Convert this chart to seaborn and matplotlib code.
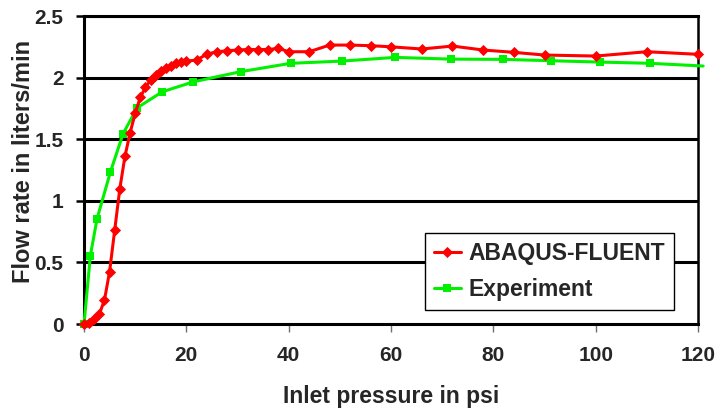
import matplotlib
matplotlib.use("Agg")
import matplotlib.pyplot as plt
import seaborn as sns
import pandas as pd
from matplotlib.ticker import FuncFormatter

# ---- data ----
sim_pressure = [0, 1, 2, 3, 4, 5, 6, 7, 8, 9, 10, 11, 12, 13, 14, 15, 16, 17, 18, 19, 20,
                22, 24, 26, 28, 30, 32, 34, 36, 38, 40, 44, 48, 52, 56, 60, 66, 72, 78,
                84, 90, 100, 110, 120]
sim_flow = [0.0, 0.005, 0.04, 0.08, 0.195, 0.425, 0.762, 1.098, 1.36, 1.551, 1.709,
            1.839, 1.92, 1.98, 2.02, 2.053, 2.075, 2.096, 2.116, 2.13, 2.134,
            2.142, 2.19, 2.21, 2.218, 2.224, 2.228, 2.228, 2.228, 2.237, 2.21, 2.21,
            2.264, 2.264, 2.259, 2.25, 2.232, 2.256, 2.224, 2.205, 2.183, 2.175,
            2.21, 2.189]

exp_pressure = [0, 1.25, 2.55, 5.16, 7.65, 10.4, 15.3, 21.4, 30.6, 40.4, 50.4, 60.8,
                71.7, 81.9, 91.2, 100.8, 110.6, 121]
exp_flow = [0.0, 0.556, 0.854, 1.234, 1.546, 1.755, 1.885, 1.966, 2.048, 2.116,
            2.134, 2.164, 2.15, 2.148, 2.137, 2.126, 2.116, 2.094]

series_names = ["ABAQUS-FLUENT", "Experiment"]
x_ticks = [0, 20, 40, 60, 80, 100, 120]
y_ticks = [0, 0.5, 1, 1.5, 2, 2.5]
x_label = "Inlet pressure in psi"
y_label = "Flow rate in liters/min"

sns.set_style("white")
plt.rcParams["font.family"] = ["Liberation Sans", "DejaVu Sans"]
plt.rcParams["font.weight"] = "bold"

fig = plt.figure(figsize=(7.21, 4.13), dpi=100)
ax = fig.add_axes([84 / 721, (413 - 324) / 413, 614 / 721, 308 / 413])

sim_df = pd.DataFrame({"p": sim_pressure, "q": sim_flow})
exp_df = pd.DataFrame({"p": exp_pressure, "q": exp_flow})

sns.lineplot(data=sim_df, x="p", y="q", ax=ax, color="#ff0000", linewidth=2.2,
             marker="D", markersize=4.8, markeredgewidth=0.6, markeredgecolor="#ff0000",
             label=series_names[0], zorder=4, clip_on=False, estimator=None)
sns.lineplot(data=exp_df, x="p", y="q", ax=ax, color="#00f000", linewidth=2.2,
             marker="s", markersize=5.6, markeredgewidth=0, label=series_names[1],
             zorder=3, markevery=list(range(len(exp_pressure) - 1)), clip_on=False,
             estimator=None)

ax.set_xlim(0, 120)
ax.set_ylim(0, 2.5)
ax.set_xticks(x_ticks)
ax.set_yticks(y_ticks)
ax.yaxis.set_major_formatter(FuncFormatter(lambda v, p: "%g" % v))

ax.grid(False)
for yv in y_ticks[1:]:
    ax.axhline(yv, color="black", linewidth=2.2, zorder=1)

for side in ["left", "right", "top", "bottom"]:
    ax.spines[side].set_visible(True)
    ax.spines[side].set_color("black")
    ax.spines[side].set_linewidth(2.2)
ax.spines["right"].set_linewidth(1.8)

ax.tick_params(axis="x", direction="out", length=5.8, width=1.0, color="#707070",
               pad=10, labelsize=15, bottom=True)
ax.tick_params(axis="y", direction="out", length=5.8, width=1.8, color="black",
               pad=9, labelsize=15, left=True)
for lab in ax.get_xticklabels() + ax.get_yticklabels():
    lab.set_fontweight("bold")

ax.set_xlabel("")
ax.set_ylabel("")
fig.text(391 / 721, 1 - 397 / 413, x_label, ha="center", va="center",
         fontsize=16.5, fontweight="bold")
fig.text(24 / 721, 1 - 161 / 413, y_label, ha="center", va="center", rotation=90,
         fontsize=17, fontweight="bold")

leg = ax.legend(loc="upper left", bbox_to_anchor=(425 / 721, 1 - 233 / 413),
                bbox_transform=fig.transFigure, frameon=True, fancybox=False,
                framealpha=1, edgecolor="black", borderpad=0.4, borderaxespad=0,
                handlelength=1.15, handletextpad=0.35, labelspacing=0.55,
                prop={"weight": "bold", "size": 16.5})
leg.get_frame().set_linewidth(1.0)
leg.set_zorder(10)

fig.savefig("out.png", dpi=100)
